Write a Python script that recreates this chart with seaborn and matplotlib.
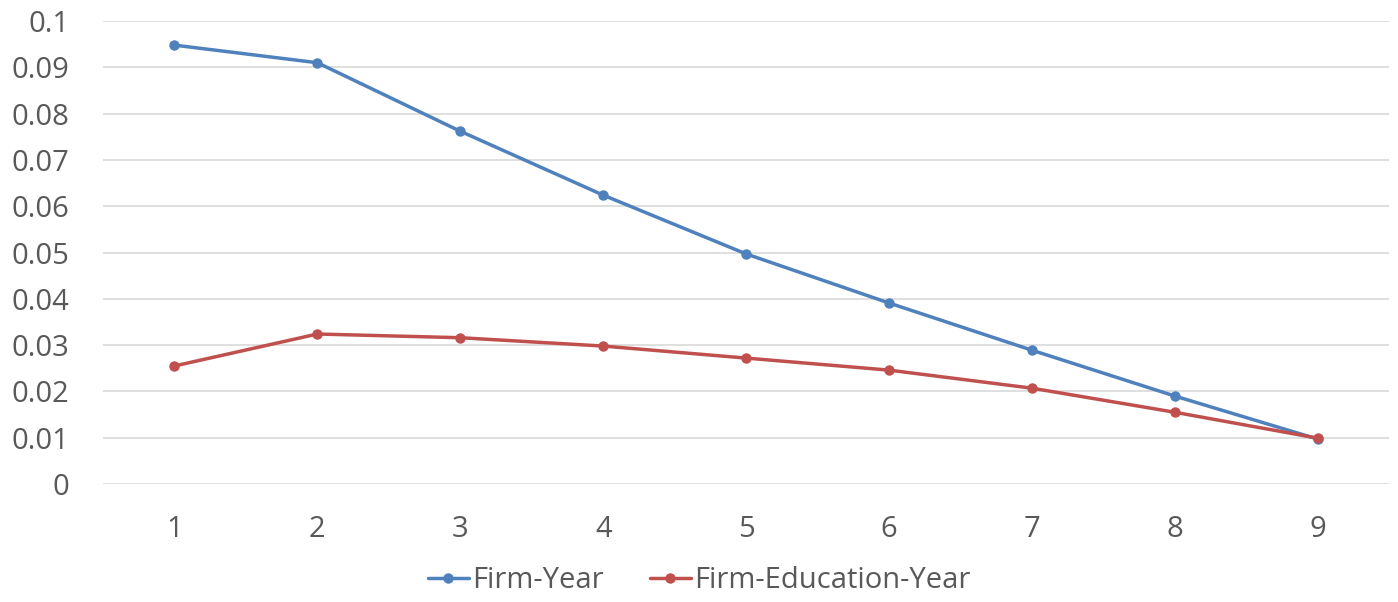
import pandas as pd
import matplotlib.pyplot as plt
import seaborn as sns

periods = [1, 2, 3, 4, 5, 6, 7, 8, 9]
firm_year = [0.0948, 0.0910, 0.0762, 0.0624, 0.0497, 0.0391, 0.0289, 0.0190, 0.0097]
firm_edu_year = [0.0255, 0.0324, 0.0316, 0.0298, 0.0272, 0.0246, 0.0207, 0.0155, 0.0099]
series_names = ["Firm-Year", "Firm-Education-Year"]
y_ticks = [0, 0.01, 0.02, 0.03, 0.04, 0.05, 0.06, 0.07, 0.08, 0.09, 0.1]
y_labels = ["0", "0.01", "0.02", "0.03", "0.04", "0.05", "0.06", "0.07", "0.08", "0.09", "0.1"]

df = pd.DataFrame({
    "period": periods * 2,
    "value": firm_year + firm_edu_year,
    "series": [series_names[0]] * len(periods) + [series_names[1]] * len(periods),
})

sns.set_style("white")
plt.rcParams["font.family"] = ["Open Sans", "DejaVu Sans"]
text_color = "#595959"

fig = plt.figure(figsize=(13.98, 6.02), dpi=100)
ax = fig.add_axes([0.0737, 0.196, 0.92, 0.769])

sns.lineplot(data=df, x="period", y="value", hue="series", ax=ax,
             palette={"Firm-Year": "#4F81BD", "Firm-Education-Year": "#C0504D"},
             marker="o", markersize=7.5, markeredgewidth=0, linewidth=2.5,
             legend=False)

ax.set_xlim(0.5, 9.5)
ax.set_ylim(0, 0.1)
ax.set_yticks(y_ticks)
ax.set_yticklabels(y_labels)
ax.set_xticks(periods)
ax.set_xticklabels([str(p) for p in periods])
ax.set_xlabel("")
ax.set_ylabel("")
ax.yaxis.grid(True, color="#D9D9D9", linewidth=1.2)
ax.xaxis.grid(False)
ax.set_axisbelow(True)
for s in ax.spines.values():
    s.set_visible(False)
ax.tick_params(axis="both", labelsize=21, colors=text_color, length=0)
ax.tick_params(axis="y", pad=24)
ax.tick_params(axis="x", pad=22)

handles = [plt.Line2D([], [], color=c, marker="o", markersize=7.5, markeredgewidth=0, linewidth=2.5)
           for c in ["#4F81BD", "#C0504D"]]
fig.legend(handles, series_names, loc="center", bbox_to_anchor=(0.5, 0.035), ncol=2,
           frameon=False, fontsize=21, labelcolor=text_color, handlelength=1.4,
           handletextpad=0.1, columnspacing=1.6)

fig.savefig("out.png", dpi=100)
